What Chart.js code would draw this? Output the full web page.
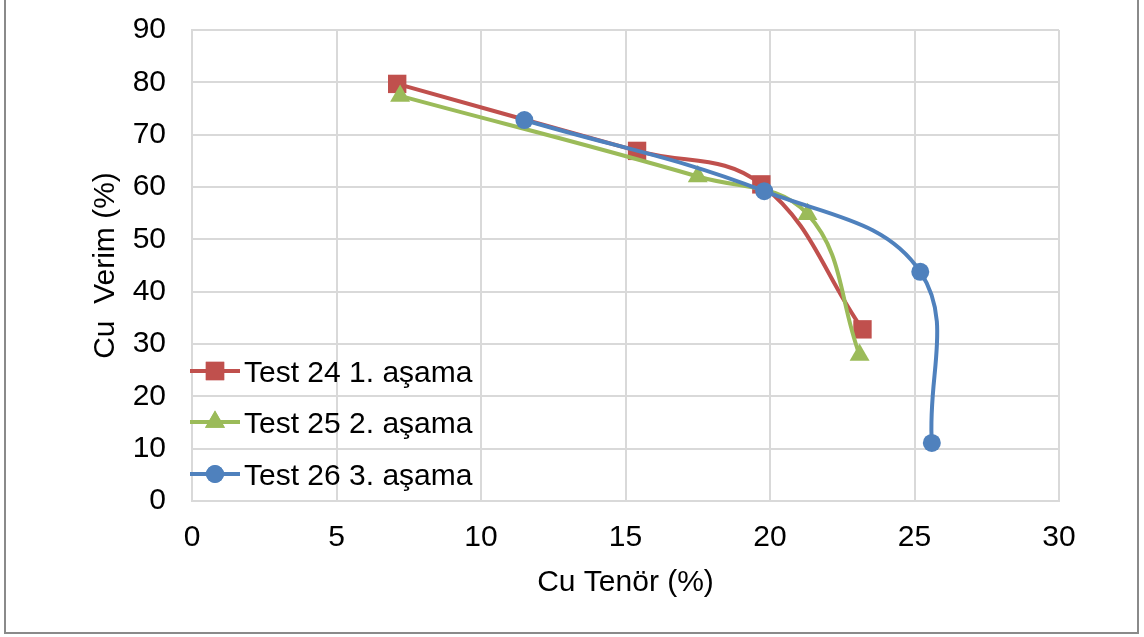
<!DOCTYPE html>
<html>
<head>
<meta charset="utf-8">
<title>Cu Verim - Tenör</title>
<script src="https://cdn.jsdelivr.net/npm/chart.js@4.4.1/dist/chart.umd.min.js"></script>
<style>
  body { margin: 0; background: #fff; }
  .chartmain { position: relative; width: 1144px; height: 637px; overflow: hidden; }
  .frame {
    position: absolute; left: 4px; top: -4px; width: 1135px; height: 638px;
    box-sizing: border-box; border: 2px solid #8a8a8a;
  }
  canvas { position: absolute; left: 0; top: 0; }
</style>
</head>
<body>
<div class="chartmain">
  <div class="frame"></div>
  <canvas id="myChart" width="1144" height="637"></canvas>
</div>
<script>
// Tenör (x) / verim (y) pairs for each flotation stage
const labels = ["Test 24 1. aşama", "Test 25 2. aşama", "Test 26 3. aşama"];
const test24Tenor = [7.1, 15.4, 19.7, 23.2];
const test24Verim = [79.7, 66.9, 60.5, 32.8];
const test25Tenor = [7.2, 17.5, 21.3, 23.1];
const test25Verim = [77.4, 62.0, 54.8, 27.9];
const test26Tenor = [11.5, 19.8, 25.2, 25.6];
const test26Verim = [72.8, 59.2, 43.8, 11.1];

const xTicks = [0, 5, 10, 15, 20, 25, 30];
const yTicks = [0, 10, 20, 30, 40, 50, 60, 70, 80, 90];

const FONT = "'Liberation Sans', Arial, sans-serif";
const GRID = "#d9d9d9";

const toPoints = (xs, ys) => xs.map((x, i) => ({ x: x, y: ys[i] }));

const styles = [
  { color: "#c0504d", pointStyle: "rect", radius: 13, order: 2 },
  { color: "#9bbb59", pointStyle: "triangle", radius: 11.5, order: 1 },
  { color: "#4f81bd", pointStyle: "circle", radius: 9, order: 0 },
];
const series = [
  toPoints(test24Tenor, test24Verim),
  toPoints(test25Tenor, test25Verim),
  toPoints(test26Tenor, test26Verim),
];

const datasets = series.map((data, i) => ({
  label: labels[i],
  data: data,
  showLine: true,
  tension: 0.4,
  borderColor: styles[i].color,
  backgroundColor: styles[i].color,
  borderWidth: 4,
  pointStyle: styles[i].pointStyle,
  pointRadius: styles[i].radius,
  pointBorderWidth: 0,
  order: styles[i].order,
}));

// legend drawn inside the plot, bottom-left
const insideLegend = {
  id: "insideLegend",
  afterDraw(chart) {
    const ctx = chart.ctx;
    const rows = [371, 422, 474];
    ctx.save();
    chart.data.datasets.forEach((ds, i) => {
      const y = rows[i];
      ctx.strokeStyle = ds.borderColor;
      ctx.lineWidth = 4;
      ctx.beginPath();
      ctx.moveTo(190, y);
      ctx.lineTo(240, y);
      ctx.stroke();
      ctx.fillStyle = ds.backgroundColor;
      Chart.helpers.drawPoint(ctx, {
        pointStyle: ds.pointStyle,
        radius: ds.pointRadius,
        borderWidth: 0,
        rotation: 0,
      }, 215, y);
      ctx.fill();
      ctx.fillStyle = "#000";
      ctx.font = "30px " + FONT;
      ctx.textAlign = "left";
      ctx.textBaseline = "alphabetic";
      ctx.fillText(ds.label, 244, y + 11);
    });
    ctx.restore();
  },
};

const ctx = document.getElementById("myChart").getContext("2d");
new Chart(ctx, {
  type: "scatter",
  data: { datasets: datasets },
  plugins: [insideLegend],
  options: {
    responsive: false,
    animation: false,
    events: [],
    layout: { padding: { left: 0, right: 85, top: 30, bottom: 0 } },
    plugins: { legend: { display: false }, tooltip: { enabled: false } },
    scales: {
      x: {
        type: "linear",
        min: xTicks[0],
        max: xTicks[xTicks.length - 1],
        afterBuildTicks: (scale) => { scale.ticks = xTicks.map((v) => ({ value: v })); },
        afterFit: (scale) => { scale.height = 136; },
        grid: { color: GRID, lineWidth: 2, drawTicks: false },
        border: { color: GRID, width: 2 },
        ticks: { color: "#000", padding: 19, font: { family: FONT, size: 30 } },
        title: {
          display: true,
          text: "Cu Tenör (%)",
          color: "#000",
          font: { family: FONT, size: 30 },
          padding: { top: 0, bottom: 36 },
        },
      },
      y: {
        type: "linear",
        min: yTicks[0],
        max: yTicks[yTicks.length - 1],
        afterBuildTicks: (scale) => { scale.ticks = yTicks.map((v) => ({ value: v })); },
        afterFit: (scale) => {
          scale.width = 192;
          // tick padding would otherwise push the plot top down
          scale.paddingTop = 0;
          scale.paddingBottom = 0;
        },
        grid: { color: GRID, lineWidth: 2, drawTicks: false },
        border: { color: GRID, width: 2 },
        ticks: { color: "#000", padding: 26, font: { family: FONT, size: 30 } },
        title: {
          display: true,
          text: "Cu  Verim (%)",
          color: "#000",
          font: { family: FONT, size: 30 },
          padding: { top: 88, bottom: 0 },
        },
      },
    },
  },
});
</script>
</body>
</html>
